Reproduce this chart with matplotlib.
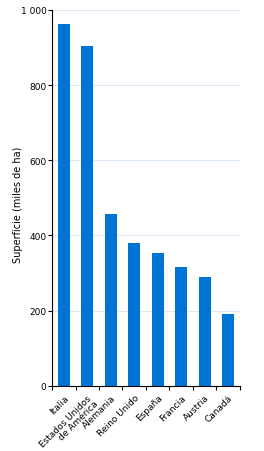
import numpy as np
import matplotlib.pyplot as plt
from matplotlib.ticker import FuncFormatter

paises = ["Italia", "Estados Unidos\nde América", "Alemania", "Reino Unido",
          "España", "Francia", "Austria", "Canadá"]
superficie = [963, 904, 457, 380, 354, 316, 290, 191]

fig = plt.figure(figsize=(2.64, 4.52), dpi=100)
ax = fig.add_axes([0.197, 0.144, 0.712, 0.832])

x = np.arange(len(paises))
ax.bar(x, superficie, width=0.5, color="#0074d4", zorder=2)

ax.set_xlim(-0.5, len(paises) - 0.5)
ax.set_ylim(0, 1000)
ax.set_yticks([0, 200, 400, 600, 800, 1000])
ax.yaxis.set_major_formatter(FuncFormatter(lambda v, p: f"{int(v):,}".replace(",", " ")))
ax.grid(axis="y", color="#dde8f6", linewidth=0.8, zorder=0)

ax.set_xticks(x)
ax.set_xticklabels(paises, rotation=45, ha="right", rotation_mode="anchor",
                   fontsize=6.5, linespacing=0.95)
ax.set_xticks(np.arange(len(paises) + 1) - 0.5, minor=True)
ax.tick_params(axis="x", which="major", length=0, pad=5)
ax.tick_params(axis="x", which="minor", length=3, width=0.8)
ax.tick_params(axis="y", length=3, width=0.8, labelsize=6.5, pad=1)

for s in ["top", "right"]:
    ax.spines[s].set_visible(False)
ax.spines["left"].set_linewidth(0.8)
ax.spines["bottom"].set_linewidth(0.8)

fig.text(18 / 264, 1 - 205 / 452, "Superficie (miles de ha)", rotation=90,
         ha="center", va="center", fontsize=7)

fig.savefig("out.png", dpi=100)
